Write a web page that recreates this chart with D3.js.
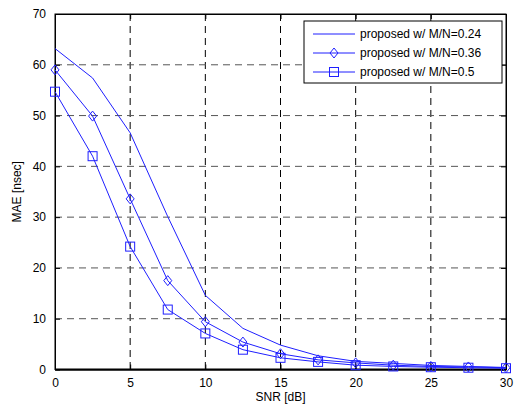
<!DOCTYPE html>
<html lang="en">
<head>
    <meta charset="UTF-8">
    <script src="https://d3js.org/d3.v7.min.js"></script>
    <style>
        body { margin: 0; background: #fff; }
        text { font-family: "Liberation Sans", Arial, sans-serif; }
    </style>
</head>
<body>
<div id="chart"></div>
<script>
    // values
    var snr = [0, 2.5, 5, 7.5, 10, 12.5, 15, 17.5, 20, 22.5, 25, 27.5, 30];
    var mae024 = [63.2, 57.4, 46.6, 30.1, 14.6, 8.1, 4.8, 2.7, 1.6, 1.2, 0.8, 0.6, 0.4];
    var mae036 = [59.0, 49.9, 33.6, 17.5, 9.4, 5.4, 3.1, 1.9, 1.3, 0.85, 0.6, 0.5, 0.35];
    var mae05 = [54.7, 42.0, 24.2, 11.8, 7.1, 3.9, 2.3, 1.5, 0.85, 0.6, 0.45, 0.35, 0.25];
    var seriesNames = ["proposed w/ M/N=0.24", "proposed w/ M/N=0.36", "proposed w/ M/N=0.5"];
    var xTicks = [0, 5, 10, 15, 20, 25, 30];
    var yTicks = [0, 10, 20, 30, 40, 50, 60, 70];

    var margin = {top: 14, right: 18, bottom: 38, left: 55},
        width = 524 - margin.left - margin.right,
        height = 407 - margin.top - margin.bottom;

    var blue = "#1f1fff";

    var x = d3.scaleLinear().domain([0, 30]).range([0, 451]);
    var y = d3.scaleLinear().domain([0, 70]).range([355.5, 0]);

    var svg = d3.select("#chart")
        .append("svg")
            .attr("width", 524)
            .attr("height", 407)
        .append("g")
            .attr("transform", "translate(" + margin.left + "," + margin.top + ")");

    var W = x(30), H = y(0);

    // dashed grid
    svg.selectAll(".gx").data(xTicks.slice(1, -1)).enter().append("line")
        .attr("x1", function(d) { return x(d); }).attr("x2", function(d) { return x(d); })
        .attr("y1", 0).attr("y2", H)
        .attr("stroke", "#000").attr("stroke-dasharray", "7,5");
    svg.selectAll(".gy").data(yTicks.slice(1, -1)).enter().append("line")
        .attr("y1", function(d) { return y(d); }).attr("y2", function(d) { return y(d); })
        .attr("x1", 0).attr("x2", W)
        .attr("stroke", "#555").attr("stroke-dasharray", "7,5");

    // axes with inward ticks on all sides
    var xAxis = svg.append("g").attr("transform", "translate(0," + H + ")")
        .call(d3.axisBottom(x).tickValues(xTicks).tickSizeInner(-5).tickSizeOuter(0).tickPadding(9));
    var yAxis = svg.append("g")
        .call(d3.axisLeft(y).tickValues(yTicks).tickSizeInner(-5).tickSizeOuter(0).tickPadding(9));
    svg.append("g").call(d3.axisTop(x).tickValues(xTicks).tickSizeInner(-5).tickSizeOuter(0).tickFormat(""));
    svg.append("g").attr("transform", "translate(" + W + ",0)")
        .call(d3.axisRight(y).tickValues(yTicks).tickSizeInner(-5).tickSizeOuter(0).tickFormat(""));
    svg.selectAll(".domain").attr("stroke", "#000");
    svg.selectAll(".tick line").attr("stroke", "#000");
    svg.selectAll(".tick text").attr("font-size", 12).attr("fill", "#000")
        .style("font-family", "'Liberation Sans', Arial, sans-serif");
    svg.append("line").attr("x1", 0).attr("x2", W).attr("y1", H).attr("y2", H)
        .attr("stroke", "#000").attr("stroke-width", 2);
    svg.append("rect").attr("width", W).attr("height", H)
        .attr("fill", "none").attr("stroke", "#000");

    // labels
    svg.append("text").attr("x", W / 2).attr("y", H + 31)
        .attr("text-anchor", "middle").attr("font-size", 12).text("SNR [dB]");
    svg.append("text").attr("transform", "translate(-34," + (H / 2) + ") rotate(-90)")
        .attr("text-anchor", "middle").attr("font-size", 12).text("MAE [nsec]");

    var line = d3.line()
        .x(function(d) { return x(d[0]); })
        .y(function(d) { return y(d[1]); });

    var allSeries = [mae024, mae036, mae05];
    var markers = [null, "diamond", "square"];

    function drawMarker(g, type, cx, cy) {
        if (type === "diamond") {
            g.append("path")
                .attr("d", "M" + cx + "," + (cy - 5) + "L" + (cx + 4) + "," + cy + "L" + cx + "," + (cy + 5) + "L" + (cx - 4) + "," + cy + "Z")
                .attr("fill", "none").attr("stroke", blue);
        } else if (type === "square") {
            g.append("rect").attr("x", cx - 4.5).attr("y", cy - 4.5)
                .attr("width", 9).attr("height", 9)
                .attr("fill", "none").attr("stroke", blue);
        }
    }

    allSeries.forEach(function(vals, i) {
        var pts = snr.map(function(s, j) { return [s, vals[j]]; });
        var g = svg.append("g");
        g.append("path").datum(pts).attr("d", line)
            .attr("fill", "none").attr("stroke", blue).attr("stroke-width", 1);
        if (markers[i]) {
            pts.forEach(function(p) { drawMarker(g, markers[i], x(p[0]), y(p[1])); });
        }
    });

    // legend
    var lg = svg.append("g").attr("transform", "translate(" + (304 - margin.left) + "," + (21 - margin.top) + ")");
    lg.append("rect").attr("width", 198).attr("height", 62)
        .attr("fill", "#fff").attr("stroke", "#000");
    seriesNames.forEach(function(name, i) {
        var ly = 13 + i * 19;
        lg.append("line").attr("x1", 9).attr("x2", 51).attr("y1", ly).attr("y2", ly)
            .attr("stroke", blue);
        drawMarker(lg, markers[i], 30, ly);
        lg.append("text").attr("x", 56).attr("y", ly + 4)
            .attr("font-size", 12).text(name);
    });
</script>
</body>
</html>
